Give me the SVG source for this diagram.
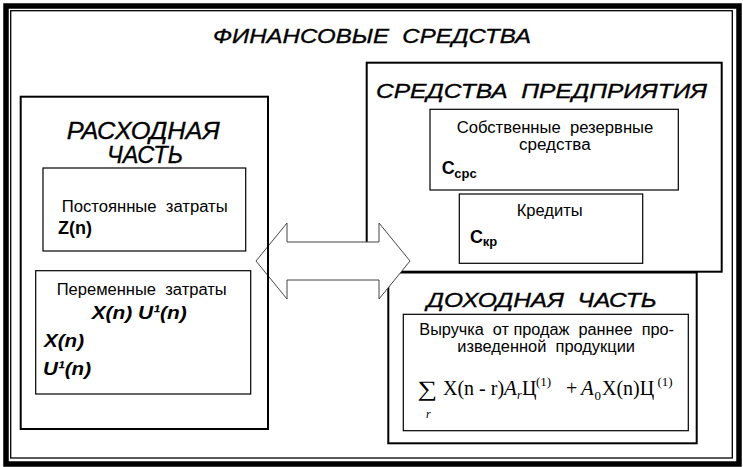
<svg xmlns="http://www.w3.org/2000/svg" width="743" height="467" viewBox="0 0 743 467">
<style>
text{white-space:pre}
.title{font-family:"Liberation Sans",Arial,sans-serif;font-style:italic;font-size:21px;fill:#000;stroke:#000;stroke-width:0.35}
.big{font-family:"Liberation Sans",Arial,sans-serif;font-style:italic;font-size:24px;fill:#000;stroke:#000;stroke-width:0.35}
.body{font-family:"Liberation Sans",Arial,sans-serif;font-size:16px;fill:#000}
.sym{font-family:"Liberation Sans",Arial,sans-serif;font-weight:bold;font-size:18px;fill:#000}
.symi{font-family:"Liberation Sans",Arial,sans-serif;font-weight:bold;font-style:italic;font-size:19px;fill:#000}
.sub{font-family:"Liberation Sans",Arial,sans-serif;font-weight:bold;font-size:13px;fill:#000}
.m{font-family:"Liberation Serif","Times New Roman",serif;font-size:20px;fill:#000}
.sum{font-family:"Liberation Serif","Times New Roman",serif;font-size:22px;fill:#000}
.it{font-style:italic;font-size:21px}
.sm{font-size:13px}
.si{font-size:12px;font-style:italic}
.msi{font-family:"Liberation Serif","Times New Roman",serif;font-style:italic;font-size:12px;fill:#000}
.outer{fill:#fff;stroke:#000;stroke-width:2}
.inner{fill:#fff;stroke:#000;stroke-width:1.2}
</style>
<rect x="0" y="0" width="743" height="467" fill="#fff"/>
<g id="frame">
<rect x="6" y="6" width="733" height="458" fill="none" stroke="#000" stroke-width="5.5"/>
<rect x="10.7" y="10.7" width="721.6" height="447.3" fill="none" stroke="#000" stroke-width="1.3"/>
<text class="title" x="213" y="43" textLength="318" lengthAdjust="spacingAndGlyphs" xml:space="preserve">ФИНАНСОВЫЕ  СРЕДСТВА</text>
</g>
<g id="income">
<rect class="outer" x="388.3" y="272.5" width="308.4" height="170.8"/>
<text class="title" x="426.7" y="306.7" textLength="230" lengthAdjust="spacingAndGlyphs" xml:space="preserve">ДОХОДНАЯ  ЧАСТЬ</text>
</g>
<g id="revenue">
<rect class="inner" x="403.3" y="314.3" width="285" height="116.4"/>
<text class="body" x="419.3" y="335" textLength="254.7" lengthAdjust="spacingAndGlyphs" xml:space="preserve">Выручка  от продаж  раннее  про-</text>
<text class="body" x="457.3" y="351.7" textLength="177.7" lengthAdjust="spacingAndGlyphs" xml:space="preserve">изведенной  продукции</text>
<text class="sum" transform="translate(417.5,396) scale(1.25,1)" x="0" y="0">∑</text>
<text class="msi" x="426" y="418">r</text>
<text class="m" x="443" y="395">X(n - r)<tspan class="it" x="504" y="395">A</tspan><tspan class="si" x="517" y="399">r</tspan><tspan x="522" y="395">Ц</tspan><tspan class="sm" x="536" y="385.5">(1)</tspan><tspan x="566" y="395">+</tspan><tspan class="it" x="581" y="395">A</tspan><tspan class="sm" x="594.5" y="400">0</tspan><tspan x="602" y="395">X(n)Ц</tspan><tspan class="sm" x="657.5" y="385.5">(1)</tspan></text>
</g>
<g id="enterprise">
<rect class="outer" x="366.7" y="62.7" width="355" height="209"/>
<text class="title" x="376" y="98.3" textLength="331" lengthAdjust="spacingAndGlyphs" xml:space="preserve">СРЕДСТВА  ПРЕДПРИЯТИЯ</text>
</g>
<g id="reserve">
<rect class="inner" x="430" y="109.3" width="248.3" height="80.7"/>
<text class="body" x="456.7" y="133.3" textLength="196.6" lengthAdjust="spacingAndGlyphs" xml:space="preserve">Собственные  резервные</text>
<text class="body" x="519" y="150" textLength="71.7" lengthAdjust="spacingAndGlyphs">средства</text>
<text class="sym" x="441.7" y="174">С<tspan class="sub" x="454.3" y="177.5">срс</tspan></text>
</g>
<g id="credit">
<rect class="inner" x="459.3" y="194" width="183.4" height="69.3"/>
<text class="body" x="516.7" y="216" textLength="66" lengthAdjust="spacingAndGlyphs">Кредиты</text>
<text class="sym" x="470" y="242.5">С<tspan class="sub" x="482.7" y="246">кр</tspan></text>
</g>
<g id="connectors">
<polygon points="256,261 287,223 287,242 379,242 379,223 410,261 379,299 379,280 287,280 287,299" fill="#fff" stroke="#444" stroke-width="1"/>
</g>
<g id="expense">
<rect x="20.7" y="96.7" width="247.3" height="332.3" fill="none" stroke="#000" stroke-width="2"/>
<text class="big" x="66.7" y="138.5" textLength="153" lengthAdjust="spacingAndGlyphs">РАСХОДНАЯ</text>
<text class="big" x="107" y="163" textLength="76" lengthAdjust="spacingAndGlyphs">ЧАСТЬ</text>
</g>
<g id="fixed">
<rect class="inner" x="43" y="168" width="202.7" height="83"/>
<text class="body" x="61.7" y="212" textLength="166" lengthAdjust="spacingAndGlyphs" xml:space="preserve">Постоянные  затраты</text>
<text class="sym" x="58" y="234.3">Z(n)</text>
</g>
<g id="variable">
<rect class="inner" x="35.7" y="270.7" width="215" height="123.3"/>
<text class="body" x="56.7" y="294.5" textLength="170" lengthAdjust="spacingAndGlyphs" xml:space="preserve">Переменные  затраты</text>
<text class="symi" x="91.7" y="319" textLength="95" lengthAdjust="spacingAndGlyphs">X(n) U¹(n)</text>
<text class="symi" x="44" y="347" textLength="40" lengthAdjust="spacingAndGlyphs">X(n)</text>
<text class="symi" x="43" y="375" textLength="48" lengthAdjust="spacingAndGlyphs">U¹(n)</text>
</g>
</svg>
